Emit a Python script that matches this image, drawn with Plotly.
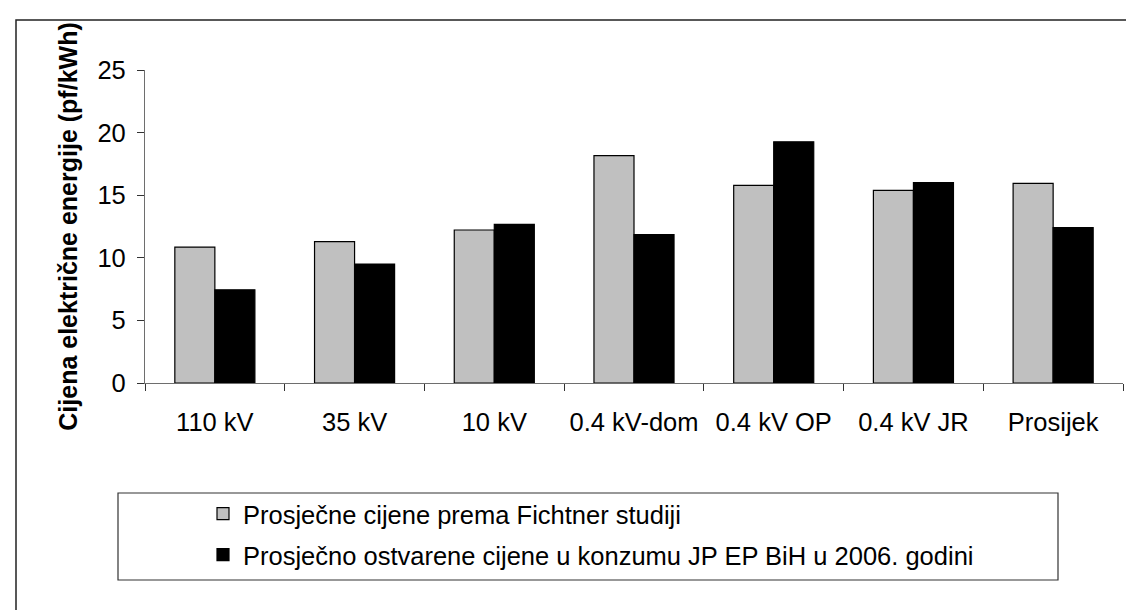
import plotly.graph_objects as go

categories = ["110 kV", "35 kV", "10 kV", "0.4 kV-dom", "0.4 kV OP", "0.4 kV JR", "Prosijek"]
fichtner = [10.86, 11.29, 12.22, 18.16, 15.79, 15.39, 15.94]
ostvarene = [7.45, 9.50, 12.67, 11.85, 19.27, 16.00, 12.41]
name_fichtner = "Prosječne cijene prema Fichtner studiji"
name_ostvarene = "Prosječno ostvarene cijene u konzumu JP EP BiH u 2006. godini"
y_title = "Cijena električne energije (pf/kWh)"
y_ticks = [0, 5, 10, 15, 20, 25]

FONT = "Arial, Liberation Sans, sans-serif"
FS = 25.5
W, H = 1134, 610
L, R, T, B = 137, 19, 62, 235
PW, PH = W - L - R, H - T - B

def px(x):
    return (x - L) / PW

def py(y):
    return (H - B - y) / PH

fig = go.Figure()
fig.add_trace(go.Bar(x=categories, y=fichtner, name=name_fichtner,
                     marker=dict(color="#C0C0C0", line=dict(color="#000000", width=1.2)),
                     legend="legend"))
fig.add_trace(go.Bar(x=categories, y=ostvarene, name=name_ostvarene,
                     marker=dict(color="#000000", line=dict(color="#000000", width=1.2)),
                     legend="legend2"))

fig.update_layout(
    width=W, height=H,
    margin=dict(l=L, r=R, t=T, b=B, autoexpand=False),
    paper_bgcolor="white", plot_bgcolor="white",
    font=dict(family=FONT, size=FS, color="#000000"),
    barmode="group", bargap=0.427, bargroupgap=0,
    xaxis=dict(showgrid=False, showline=True, linecolor="#6e6e6e", linewidth=1.2,
               ticks="outside", tickson="boundaries", ticklen=7, tickcolor="#333",
               tickfont=dict(size=FS), ticklabelstandoff=16),
    yaxis=dict(range=[0, 25], tickvals=y_ticks, showgrid=False, zeroline=False,
               showline=True, linecolor="#6e6e6e", linewidth=1.2,
               ticks="outside", ticklen=7, tickcolor="#333",
               tickfont=dict(size=FS), ticklabelstandoff=6,
               title=dict(text="<b>" + y_title + "</b>", font=dict(size=25), standoff=12)),
    showlegend=True,
    legend=dict(x=px(195), y=py(506), xanchor="left", yanchor="middle",
                bgcolor="rgba(0,0,0,0)", borderwidth=0, font=dict(size=FS)),
    legend2=dict(x=px(195), y=py(547), xanchor="left", yanchor="middle",
                 bgcolor="rgba(0,0,0,0)", borderwidth=0, font=dict(size=FS)),
    shapes=[
        dict(type="rect", xref="paper", yref="paper",
             x0=px(8), x1=px(1145), y0=py(12), y1=py(625),
             line=dict(color="#222", width=1.5), fillcolor="rgba(0,0,0,0)"),
        dict(type="rect", xref="paper", yref="paper",
             x0=px(110), x1=px(1050), y0=py(485), y1=py(572),
             line=dict(color="#333", width=1.2), fillcolor="rgba(0,0,0,0)"),
    ],
)

fig.write_html("out.html")
